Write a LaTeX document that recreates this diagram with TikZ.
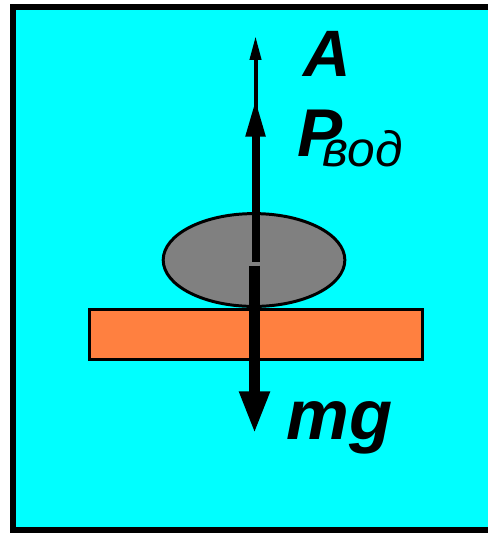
\documentclass[tikz,border=0pt]{standalone}
\usepackage{fontspec}
\setmainfont{Liberation Sans}
\usetikzlibrary{arrows.meta,shapes.geometric}
\definecolor{water}{RGB}{0,255,255}
\definecolor{plate}{RGB}{255,128,64}
\definecolor{stone}{RGB}{128,128,128}
\tikzset{
  lbl/.style={font=\bfseries\itshape\fontsize{66}{66}\selectfont, inner sep=0pt, anchor=base west},
  force/.style={draw=black, line cap=butt}
}
\begin{document}
\begin{tikzpicture}[x=1bp,y=-1bp]
\fill[water] (13,7.5) rectangle (489,531);
\draw[line width=6bp] (489,7.5) -- (13,7.5) -- (13,531) -- (489,531);
\useasboundingbox (0,0) rectangle (489,533);
% body and support
\node[ellipse, draw, line width=3pt, fill=stone, minimum width=182bp, minimum height=93bp, inner sep=0pt] (body) at (254.5,260.5) {};
\node[rectangle, draw, line width=3pt, fill=plate, minimum width=334bp, minimum height=50bp, inner sep=0pt] (support) at (256.5,335.5) {};
% force arrows
\coordinate (c1) at (256,262);
\coordinate (c2) at (255,266);
\coordinate (tA) at (256,98);
\coordinate (tB) at (256,36);
\coordinate (bA) at (256,137);
\coordinate (tG) at (255,435);
\draw[force, line width=4pt, -{Triangle[length=24bp,width=11bp]}] (bA) -- (tB);
\draw[force, line width=8pt, -{Triangle[length=39bp,width=18bp]}] (c1) -- (tA);
\draw[force, line width=11pt, -{Triangle[length=43bp,width=28bp]}] (c2) -- (tG);
% labels
\node[lbl] (labA) at (304,77) {A};
\node[lbl, font=\bfseries\itshape\fontsize{68}{68}\selectfont] (labP) at (298,157) {P\hspace{-20pt}\raisebox{-10pt}{\mdseries\fontsize{50}{50}\selectfont вод}};
\node[lbl, font=\bfseries\itshape\fontsize{71}{71}\selectfont] (labG) at (287,440) {mg};
\end{tikzpicture}
\end{document}
